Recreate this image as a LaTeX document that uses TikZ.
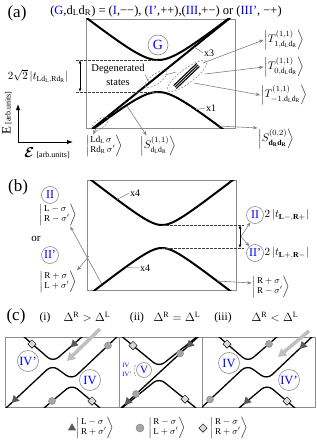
\documentclass[tikz,border=0pt]{standalone}
\usepackage{amsmath}
\usepackage{fontspec}
\setmainfont{Liberation Serif}
\usetikzlibrary{arrows.meta,shapes.geometric}
\newcommand{\kettwo}[2]{{\renewcommand{\arraystretch}{0.85}$\left|\,\begin{array}{@{}l@{}}#1\\#2\end{array}\right\rangle$}}
\begin{document}
\begin{tikzpicture}[x=1pt, y=-1pt,
    frame/.style={draw=black!45, line width=0.7pt},
    curve/.style={line width=2pt},
    slim/.style={line width=1.3pt},
    guide/.style={dash pattern=on 2.5pt off 1.5pt, line width=0.6pt, draw=black!75},
    oval/.style={dash pattern=on 2pt off 1.5pt, line width=0.5pt, draw=black!50},
    leader/.style={draw=black!50, line width=0.5pt},
    pointer/.style={draw=black!50, line width=0.6pt, -{Stealth[length=4.5pt,width=3.5pt]}},
    gap/.style={line width=0.8pt, {Latex[length=3.5pt,width=3pt]}-{Latex[length=3.5pt,width=3pt]}},
    axis/.style={line width=1pt, {Latex[length=6pt,width=4.5pt]}-{Latex[length=6pt,width=4.5pt]}},
    lab/.style={circle, draw=black!45, line width=0.6pt, text=blue, inner sep=0pt, minimum size=17pt, font=\fontsize{12}{12}\selectfont},
    ket/.style={inner sep=0.5pt, font=\fontsize{9}{10}\selectfont},
    bigket/.style={inner sep=0.5pt, font=\fontsize{11}{12}\selectfont},
    txt/.style={inner sep=0.5pt, font=\fontsize{10}{11}\selectfont},
    panel/.style={font=\fontsize{17}{17}\selectfont},
    tri/.style={regular polygon, regular polygon sides=3, fill=black!65, inner sep=0pt, minimum size=9.5pt, shape border rotate=135},
    dot/.style={circle, fill=black!35, draw=black!50, line width=0.4pt, inner sep=0pt, minimum size=7pt},
    dia/.style={diamond, fill=black!15, draw=black, line width=0.5pt, inner sep=0pt, minimum size=8.5pt},
    flow/.style={line width=3.5pt, draw=black!25, -{Triangle[length=8pt,width=9pt]}}
  ]
  \useasboundingbox (0,0) rectangle (316,444);

  % (a)
  \node[panel] (pa) at (17,13) {(a)};
  \node[font=\fontsize{12.5}{13}\selectfont] (head) at (166,11) {(\textcolor{blue}{G},d$_{\mathrm{L}}$d$_{\mathrm{R}}$) = (\textcolor{blue}{I},−−), (\textcolor{blue}{I'},++),(\textcolor{blue}{III},+−) or (\textcolor{blue}{III'}, −+)};
  \draw[frame] (86,19) rectangle (235,128);
  \begin{scope}
    \clip (86,19) rectangle (235,128);
    \draw[curve] plot[domain=84:236, samples=90] (\x, {76-sqrt(256+0.61*(\x-158)^2)});
    \draw[curve] plot[domain=84:236, samples=90] (\x, {76+sqrt(256+0.61*(\x-158)^2)});
    \draw[curve] (92,129) -- (230,18);
  \end{scope}
  \foreach \s in {-2,0,2}
    \draw[line width=1.1pt] ({175+0.69*\s},{87+0.72*\s}) -- ({198+0.69*\s},{65+0.72*\s});
  \draw[oval, rotate around={37:(187,76)}] (187,76) ellipse [x radius=24pt, y radius=7pt];
  \draw[oval, rotate around={35:(156,79)}] (156,79) ellipse [x radius=13pt, y radius=5pt];
  \draw[oval, rotate around={38:(100,124)}] (100,124) ellipse [x radius=10pt, y radius=4.5pt];
  \coordinate (zs) at (165,75);
  \coordinate (zb) at (176,72);
  \draw[leader] (zs) -- (zb);

  \node[lab, minimum size=20pt, font=\fontsize{14}{14}\selectfont] (G) at (158,45) {G};
  \node[txt, align=center, font=\fontsize{10.5}{13.5}\selectfont] (deg) at (118,75) {Degenerated\\states};
  \coordinate (degp) at (149,82);
  \draw[leader] (deg.east) -- (degp);
  \node[txt] (x3) at (209,53) {x3};
  \coordinate (x3p) at (194,47);
  \draw[leader] (x3p) -- (x3.west);
  \node[txt] (x1) at (211,108) {x1};
  \coordinate (x1p) at (196,109.5);
  \draw[leader] (x1p) -- (x1.west);

  \coordinate (dA) at (76,60);
  \coordinate (vA) at (158,60);
  \coordinate (dB) at (76,92);
  \coordinate (vB) at (158,92);
  \draw[guide] (dA) -- (vA);
  \draw[guide] (dB) -- (vB);
  \coordinate (gA) at (80,60);
  \coordinate (gB) at (80,92);
  \draw[gap] (gA) -- (gB);
  \node[font=\fontsize{11}{11}\selectfont] (tLR) at (38,76) {$2\sqrt{2}\left|t_{\mathrm{Ld_L},\mathrm{Rd_R}}\right|$};

  \node[bigket] (T1) at (284,40) {$\left|T^{(1,1)}_{1,\mathrm{d_Ld_R}}\right\rangle$};
  \node[bigket] (T0) at (284,67) {$\left|T^{(1,1)}_{0,\mathrm{d_Ld_R}}\right\rangle$};
  \node[bigket] (Tm) at (284,95) {$\left|T^{(1,1)}_{-1,\mathrm{d_Ld_R}}\right\rangle$};
  \coordinate (t1) at (203,63);
  \coordinate (t0) at (205,74);
  \coordinate (tm) at (194,83);
  \draw[pointer] (t1) -- (T1.west);
  \draw[pointer] (t0) -- (T0.west);
  \draw[pointer] (tm) -- (Tm.west);

  \node[ket] (Ld) at (104,146) {\kettwo{\mathrm{Ld_L}\,\sigma}{\mathrm{Rd_R}\,\sigma'}};
  \node[bigket] (S11) at (158,146) {$\left|S^{(1,1)}_{\mathrm{d_Ld_R}}\right\rangle$};
  \node[bigket] (S02) at (276,139) {$\left|S^{(0,2)}_{\mathbf{d_Rd_R}}\right\rangle$};
  \coordinate (ldp) at (97,127);
  \coordinate (s11) at (127,106);
  \coordinate (s02) at (219,126);
  \draw[pointer] (ldp) -- ([xshift=8pt]Ld.north west);
  \draw[pointer] (s11) -- ([xshift=7pt]S11.north west);
  \draw[pointer] (s02) -- ([yshift=11pt]S02.west);

  \coordinate (org) at (18,142);
  \coordinate (Eend) at (18,104);
  \coordinate (eend) at (73,142);
  \draw[axis] (Eend) -- (org) -- (eend);
  \node[rotate=90, font=\fontsize{13}{13}\selectfont] (Eax) at (7,113) {E\,{\fontsize{8}{8}\selectfont[arb.units]}};
  \node[font=\fontsize{14}{14}\selectfont] (eax) at (47,153) {$\boldsymbol{\mathcal{E}}$\,{\fontsize{8}{8}\selectfont[arb.units]}};

  % (b)
  \node[panel] (pb) at (18,187) {(b)};
  \draw[frame] (87,180) rectangle (236,290);
  \begin{scope}
    \clip (87,180) rectangle (236,290);
    \draw[curve] plot[domain=85:238, samples=90] (\x, {236.5-sqrt(132+0.61*(\x-162)^2)});
    \draw[curve] plot[domain=85:238, samples=90] (\x, {236.5+sqrt(132+0.61*(\x-162)^2)});
  \end{scope}
  \coordinate (bA) at (162,225);
  \coordinate (bA2) at (244,225);
  \coordinate (bB) at (162,248);
  \coordinate (bB2) at (244,248);
  \draw[guide] (bA) -- (bA2);
  \draw[guide] (bB) -- (bB2);
  \coordinate (hA) at (240,225);
  \coordinate (hB) at (240,248);
  \draw[gap] (hA) -- (hB);
  \coordinate (hm) at (241,236.5);
  \node[lab] (IIa) at (255,215) {II};
  \node[lab] (IIb) at (255,253) {II'};
  \draw[pointer] (hm) -- (IIa);
  \draw[pointer] (hm) -- (IIb);
  \node[bigket, anchor=west] (tA) at (264,215) {$2\left|t_{\mathbf{L-,R+}}\right|$};
  \node[bigket, anchor=west] (tB) at (264,253) {$2\left|t_{\mathbf{L+,R-}}\right|$};

  \node[txt] (x4a) at (135,193) {x4};
  \coordinate (x4p) at (117,199.5);
  \draw[leader] (x4p) -- (x4a.west);
  \node[txt] (x4b) at (145,268) {x4};
  \coordinate (x4q) at (126,267.5);
  \draw[leader] (x4q) -- (x4b.west);

  \node[lab] (IIl) at (50,195) {II};
  \node[ket] (LmRm) at (58,215) {\kettwo{\mathrm{L}-\sigma}{\mathrm{R}-\sigma'}};
  \node[txt, font=\fontsize{11}{11}\selectfont] (or) at (36,239) {or};
  \node[lab] (IIp) at (50,255) {II'};
  \node[ket] (RpLp) at (58,282) {\kettwo{\mathrm{R}+\sigma}{\mathrm{L}+\sigma'}};
  \coordinate (bl1) at (102,284.5);
  \coordinate (bl2) at (89,256);
  \draw[pointer] (bl1) -- ([xshift=-7pt]LmRm.south east);
  \draw[pointer] (bl2) -- (RpLp.north east);
  \node[ket] (RpRm) at (271,287) {\kettwo{\mathrm{R}+\sigma}{\mathrm{R}-\sigma'}};
  \coordinate (br) at (217,281);
  \draw[pointer] (br) -- ([yshift=4pt]RpRm.west);

  % (c)
  \node[panel] (pc) at (16,316) {(c)};
  \node[txt, font=\fontsize{11.5}{12}\selectfont] (ci) at (45,318) {(i)};
  \node[txt, font=\fontsize{11.5}{12}\selectfont] (cir) at (87,317) {$\Delta^{\mathrm{R}} > \Delta^{\mathrm{L}}$};
  \node[txt, font=\fontsize{11.5}{12}\selectfont] (cii) at (137,318) {(ii)};
  \node[txt, font=\fontsize{11.5}{12}\selectfont] (ciir) at (177,317) {$\Delta^{\mathrm{R}} = \Delta^{\mathrm{L}}$};
  \node[txt, font=\fontsize{11.5}{12}\selectfont] (ciii) at (223,318) {(iii)};
  \node[txt, font=\fontsize{11.5}{12}\selectfont] (ciiir) at (275,317) {$\Delta^{\mathrm{R}} < \Delta^{\mathrm{L}}$};

  \draw[frame] (5,337) rectangle (315,407);
  \draw[frame] (119,337) -- (119,407);
  \draw[frame] (202,337) -- (202,407);

  \foreach \dx/\ma/\mb/\xl/\xr in {0/tri/dot/5/119, 195/dot/tri/7/120} {
    \begin{scope}[xshift=\dx pt]
      \begin{scope}
        \clip (\xl,337) rectangle (\xr,407);
        \draw[slim, rounded corners=7pt] (23,336) -- (53,362) -- (83,336);
        \draw[slim, rounded corners=7pt] (5,409) -- (52,365) -- (72,379.5) -- (119,335);
        \draw[slim, rounded corners=7pt] (44,408) -- (72,384.5) -- (100,408);
      \end{scope}
      \node[dia] (da\dx) at (32,344) {};
      \node[\ma] (ma\dx) at (74,344) {};
      \node[\ma] (mb\dx) at (15,399.5) {};
      \node[\mb] (mc\dx) at (108,345.5) {};
      \node[\mb] (md\dx) at (52,401) {};
      \node[dia] (db\dx) at (92,401) {};
    \end{scope}
  }

  \begin{scope}
    \clip (119,337) rectangle (202,407);
    \draw[slim] (121,408) -- (199,336);
    \draw[slim, rounded corners=7pt] (120,335) -- (159,367) -- (198,336);
    \draw[slim, rounded corners=7pt] (122,408) -- (159,378) -- (196,408);
  \end{scope}
  \node[dia] (dc) at (133,345.5) {};
  \node[dia] (dd) at (185,399) {};
  \node[tri] (mt1) at (128,401.5) {};
  \node[dot] (mt2) at (136,394) {};
  \node[dot] (mt3) at (180,353.5) {};
  \node[tri] (mt4) at (190,344.3) {};
  \node[lab, minimum size=15pt, font=\fontsize{11}{11}\selectfont] (V) at (144,370) {V};
  \node[text=blue, inner sep=0pt, font=\fontsize{6.5}{7}\selectfont] (ivs) at (126,365) {IV};
  \node[text=blue, inner sep=0pt, font=\fontsize{6.5}{7}\selectfont] (ivt) at (127,374) {IV'};
  \draw[oval] ([shift={(150:10pt)}]V.center) arc[start angle=150, end angle=215, radius=10pt];

  \coordinate (fa) at (100,329);
  \coordinate (fb) at (67,361);
  \draw[flow] (fa) -- (fb);
  \coordinate (fc) at (309,331);
  \coordinate (fd) at (278,357);
  \draw[flow] (fc) -- (fd);

  \node[lab, minimum size=21pt, font=\fontsize{12.5}{13}\selectfont] (IVa) at (28,361) {IV'};
  \node[lab, minimum size=21pt, font=\fontsize{12.5}{13}\selectfont] (IVb) at (90,380) {IV};
  \node[lab, minimum size=21pt, font=\fontsize{12.5}{13}\selectfont] (IVc) at (229,363) {IV};
  \node[lab, minimum size=21pt, font=\fontsize{12.5}{13}\selectfont] (IVd) at (289,380) {IV'};

  % legend
  \node[tri, shape border rotate=0] (lt) at (72,428) {};
  \node[ket] (lk1) at (95,428) {\kettwo{\mathrm{L}-\sigma}{\mathrm{R}+\sigma'}};
  \node[dot, minimum size=8pt] (lc) at (140,428) {};
  \node[ket] (lk2) at (167,428) {\kettwo{\mathrm{R}-\sigma}{\mathrm{L}+\sigma'}};
  \node[dia] (lq) at (203,428) {};
  \node[ket] (lk3) at (229,428) {\kettwo{\mathrm{R}-\sigma}{\mathrm{R}+\sigma'}};
\end{tikzpicture}
\end{document}
